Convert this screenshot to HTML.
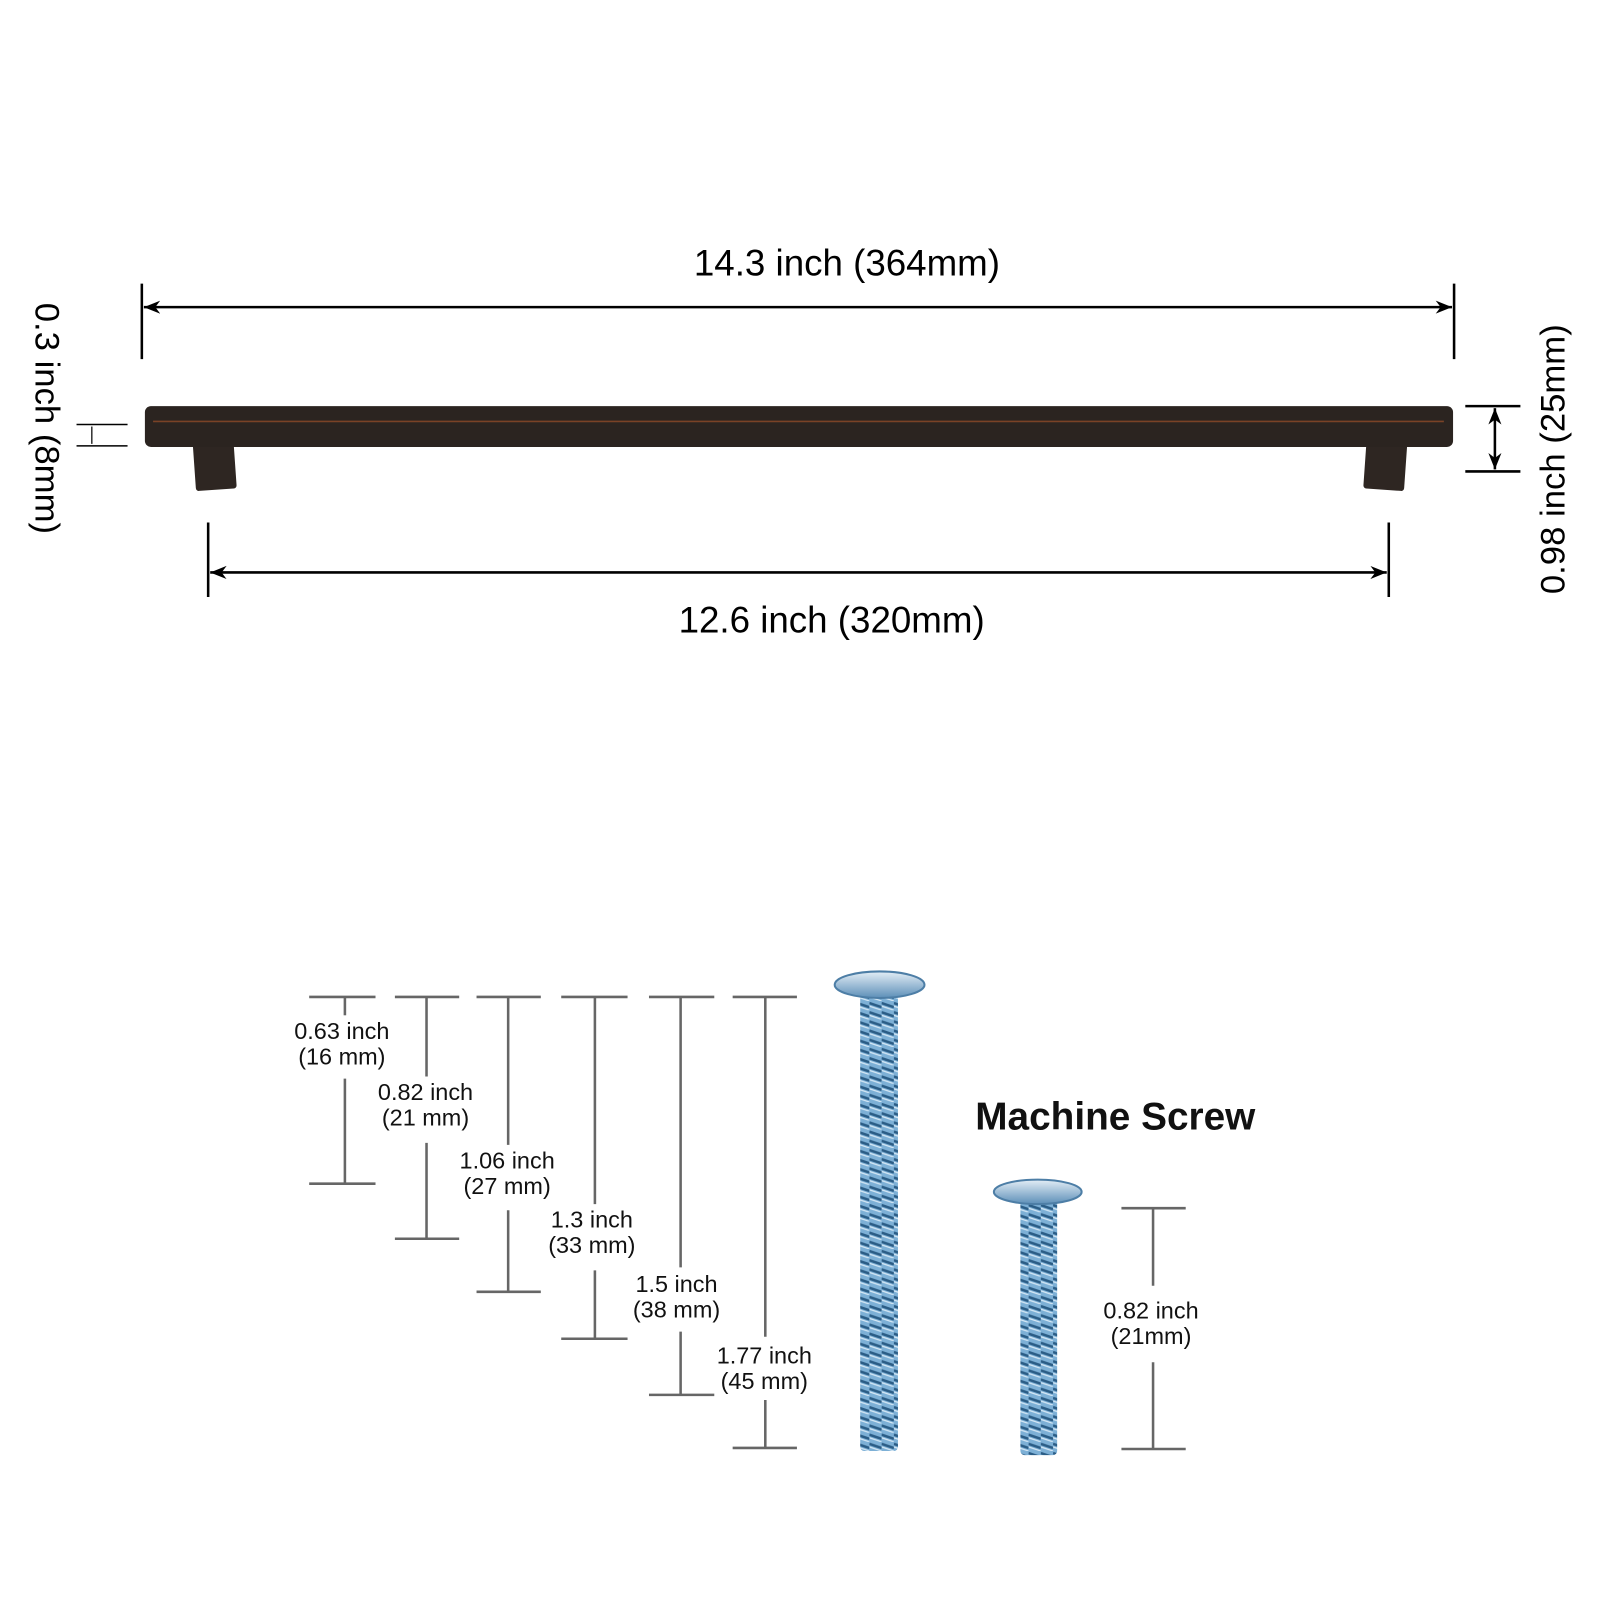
<!DOCTYPE html>
<html><head><style>html,body{margin:0;padding:0;background:#fff}svg{display:block}</style></head><body>
<svg width="1600" height="1600" viewBox="0 0 1568 1568" xmlns="http://www.w3.org/2000/svg" font-family="Liberation Sans, sans-serif">
<defs>
<marker id="a" viewBox="0 0 10 10" refX="10" refY="5" markerWidth="16" markerHeight="16" markerUnits="userSpaceOnUse" orient="auto-start-reverse"><path d="M0,1 L10,5 L0,9 L3,5z" fill="#000"/></marker>
<pattern id="th" width="12" height="9" patternUnits="userSpaceOnUse"><rect width="12" height="9" fill="#7db0d6"/><path d="M0,2 L12,6" stroke="#2b5d86" stroke-width="2.5"/><path d="M0,5 L12,9" stroke="#d6e8f5" stroke-width="1.2"/></pattern>
<linearGradient id="hd" x1="0" y1="0" x2="0" y2="1"><stop offset="0" stop-color="#e4eef6"/><stop offset="1" stop-color="#5d8fb8"/></linearGradient>
</defs>
<g stroke="#000" stroke-width="2.5" fill="none">
<line x1="139" y1="278" x2="139" y2="352"/><line x1="1425" y1="278" x2="1425" y2="352"/>
<line x1="141" y1="301" x2="1423" y2="301" marker-start="url(#a)" marker-end="url(#a)"/>
<line x1="204" y1="512" x2="204" y2="585"/><line x1="1361" y1="512" x2="1361" y2="585"/>
<line x1="206" y1="561" x2="1359" y2="561" marker-start="url(#a)" marker-end="url(#a)"/>
<line x1="1436" y1="398" x2="1490" y2="398"/><line x1="1436" y1="462" x2="1490" y2="462"/>
<line x1="1465" y1="400" x2="1465" y2="460" marker-start="url(#a)" marker-end="url(#a)"/>
<line x1="75" y1="416" x2="125" y2="416" stroke-width="1.5"/><line x1="75" y1="437" x2="125" y2="437" stroke-width="1.5"/>
<line x1="90" y1="418" x2="90" y2="435" stroke-width="1.2"/>
</g>
<text x="830" y="270" font-size="36" text-anchor="middle">14.3 inch (364mm)</text>
<text x="815" y="620" font-size="36" text-anchor="middle">12.6 inch (320mm)</text>
<text transform="translate(35,410) rotate(90)" font-size="34" text-anchor="middle">0.3 inch (8mm)</text>
<text transform="translate(1533,450) rotate(-90)" font-size="34" text-anchor="middle">0.98 inch (25mm)</text>
<rect x="190" y="425" width="40" height="55" rx="3" fill="#2e2622" transform="rotate(-4 210 450)"/>
<rect x="1338" y="425" width="40" height="55" rx="3" fill="#2e2622" transform="rotate(4 1358 450)"/>
<rect x="142" y="398" width="1282" height="40" rx="6" fill="#2b2420"/>
<line x1="150" y1="413" x2="1415" y2="413" stroke="#7a4226" stroke-width="1.5"/>
<g stroke="#666" stroke-width="2.5">
<line x1="303" y1="977" x2="368" y2="977"/><line x1="303" y1="1160" x2="368" y2="1160"/><line x1="338" y1="977" x2="338" y2="995"/><line x1="338" y1="1057" x2="338" y2="1160"/>
<line x1="387" y1="977" x2="450" y2="977"/><line x1="387" y1="1214" x2="450" y2="1214"/><line x1="418" y1="977" x2="418" y2="1055"/><line x1="418" y1="1120" x2="418" y2="1214"/>
<line x1="467" y1="977" x2="530" y2="977"/><line x1="467" y1="1266" x2="530" y2="1266"/><line x1="498" y1="977" x2="498" y2="1122"/><line x1="498" y1="1186" x2="498" y2="1266"/>
<line x1="550" y1="977" x2="615" y2="977"/><line x1="550" y1="1312" x2="615" y2="1312"/><line x1="583" y1="977" x2="583" y2="1180"/><line x1="583" y1="1245" x2="583" y2="1312"/>
<line x1="636" y1="977" x2="700" y2="977"/><line x1="636" y1="1367" x2="700" y2="1367"/><line x1="667" y1="977" x2="667" y2="1242"/><line x1="667" y1="1305" x2="667" y2="1367"/>
<line x1="718" y1="977" x2="781" y2="977"/><line x1="718" y1="1419" x2="781" y2="1419"/><line x1="750" y1="977" x2="750" y2="1310"/><line x1="750" y1="1372" x2="750" y2="1419"/>
<line x1="1099" y1="1184" x2="1162" y2="1184"/><line x1="1099" y1="1420" x2="1162" y2="1420"/><line x1="1130" y1="1184" x2="1130" y2="1260"/><line x1="1130" y1="1335" x2="1130" y2="1420"/>
</g>
<g font-size="23" text-anchor="middle" fill="#111">
<text x="335" y="1018">0.63 inch</text><text x="335" y="1043">(16 mm)</text>
<text x="417" y="1078">0.82 inch</text><text x="417" y="1103">(21 mm)</text>
<text x="497" y="1145">1.06 inch</text><text x="497" y="1170">(27 mm)</text>
<text x="580" y="1203">1.3 inch</text><text x="580" y="1228">(33 mm)</text>
<text x="663" y="1266">1.5 inch</text><text x="663" y="1291">(38 mm)</text>
<text x="749" y="1336">1.77 inch</text><text x="749" y="1361">(45 mm)</text>
<text x="1128" y="1292">0.82 inch</text><text x="1128" y="1317">(21mm)</text>
</g>
<text x="1093" y="1107" font-size="38" font-weight="bold" text-anchor="middle" fill="#111">Machine Screw</text>
<rect x="843" y="972" width="37" height="450" rx="4" fill="url(#th)"/>
<ellipse cx="862" cy="965" rx="44" ry="13" fill="url(#hd)" stroke="#4d7ea6" stroke-width="2"/>
<rect x="1000" y="1176" width="36" height="250" rx="4" fill="url(#th)"/>
<ellipse cx="1017" cy="1168" rx="43" ry="12" fill="url(#hd)" stroke="#4d7ea6" stroke-width="2"/>
</svg>
</body></html>
